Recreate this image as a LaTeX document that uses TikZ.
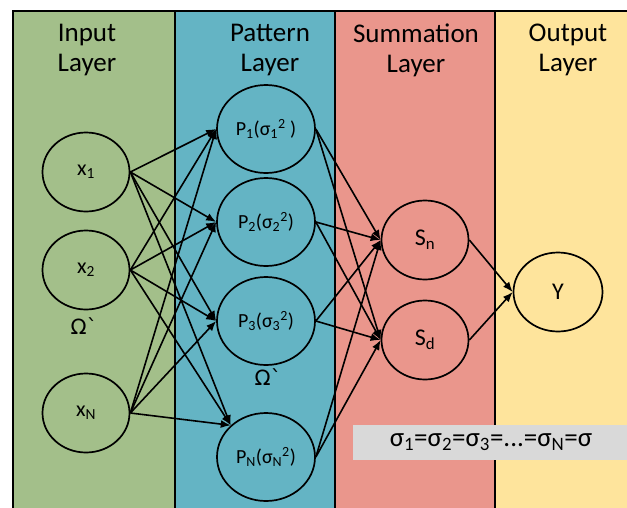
\documentclass[tikz,border=0pt]{standalone}
\usepackage{fontspec}
\setmainfont{Carlito}
\newfontfamily\glyphfont{DejaVu Sans}
\usetikzlibrary{shapes.geometric,arrows.meta}
\definecolor{inputgreen}{RGB}{163,191,138}
\definecolor{patternblue}{RGB}{100,180,196}
\definecolor{sumred}{RGB}{234,150,140}
\definecolor{outyellow}{RGB}{254,228,156}
\definecolor{boxgray}{RGB}{217,217,217}
\begin{document}
\begin{tikzpicture}[x=1pt,y=-1pt,
  unit/.style={draw,ellipse,line width=1.7pt,inner sep=0pt,minimum width=87pt,minimum height=79pt,font=\fontsize{22}{24}\selectfont},
  pat/.style={unit,minimum width=98pt,minimum height=88pt,font=\fontsize{20}{22}\selectfont},
  big/.style={unit,font=\fontsize{24}{26}\selectfont},
  conn/.style={line width=1.6pt,-{Latex[length=10pt,width=8pt]}},
  title/.style={align=center,font=\fontsize{27}{30}\selectfont},
  vdots/.style={font=\glyphfont\fontsize{21}{21}\selectfont}]
\useasboundingbox (0,0) rectangle (627,507);
\clip (0,0) rectangle (627,507);

\draw[fill=inputgreen,line width=1.2pt] (13,11) rectangle (175,530);
\draw[fill=patternblue,line width=1.2pt] (175,11) rectangle (335,530);
\draw[fill=sumred,line width=1.2pt] (335,11) rectangle (495,530);
\draw[fill=outyellow,line width=1.2pt] (495,11) rectangle (660,530);

\node[title] (tin) at (87,50) {Input\\Layer};
\node[title] (tpat) at (270,50) {Pattern\\Layer};
\node[title] (tsum) at (416,50) {Summation\\Layer};
\node[title] (tout) at (568,50) {Output\\Layer};

\node[fill=boxgray,anchor=north west,minimum width=280pt,minimum height=35pt] (box) at (353,425) {};
\node[font=\fontsize{27}{29}\selectfont] (sig) at (491,442) {σ\textsubscript{1}=σ\textsubscript{2}=σ\textsubscript{3}=...=σ\textsubscript{N}=σ};

\node[unit] (x1) at (86,172) {x\textsubscript{1}};
\node[unit] (x2) at (86,270) {x\textsubscript{2}};
\node[unit] (xN) at (86,413) {x\textsubscript{N}};
\node[vdots] (din) at (84,326) {Ωˋ};

\node[pat] (P1) at (266,129) {P\textsubscript{1}(σ\textsubscript{1}\textsuperscript{2} )};
\node[pat] (P2) at (266,222) {P\textsubscript{2}(σ\textsubscript{2}\textsuperscript{2})};
\node[pat] (P3) at (266,321) {P\textsubscript{3}(σ\textsubscript{3}\textsuperscript{2})};
\node[pat] (PN) at (266,457) {P\textsubscript{N}(σ\textsubscript{N}\textsuperscript{2})};
\node[vdots] (dpat) at (268,377) {Ωˋ};

\node[big] (Sn) at (425,240) {S\textsubscript{n}};
\node[big] (Sd) at (425,340) {S\textsubscript{d}};

\node[big,minimum width=89pt] (Y) at (558,292) {Y};

\draw[conn] (x1.east) -- (P1.west);
\draw[conn] (x1.east) -- (P2.west);
\draw[conn] (x1.east) -- (P3.west);
\draw[conn] (x1.east) -- (PN.north west);
\draw[conn] (x2.east) -- (P1.west);
\draw[conn] (x2.east) -- (P2.west);
\draw[conn] (x2.east) -- (P3.west);
\draw[conn] (x2.east) -- (PN.north west);
\draw[conn] (xN.east) -- (P1.west);
\draw[conn] (xN.east) -- (P2.west);
\draw[conn] (xN.east) -- (P3.west);
\draw[conn] (xN.east) -- (PN.north west);

\draw[conn] (P1.east) -- (Sn.west);
\draw[conn] (P1.east) -- (Sd.west);
\draw[conn] (P2.east) -- (Sn.west);
\draw[conn] (P2.east) -- (Sd.west);
\draw[conn] (P3.east) -- (Sn.west);
\draw[conn] (P3.east) -- (Sd.west);
\draw[conn] (PN.east) -- (Sn.west);
\draw[conn] (PN.east) -- (Sd.west);

\draw[conn] (Sn.east) -- (Y.west);
\draw[conn] (Sd.east) -- (Y.west);
\end{tikzpicture}
\end{document}
